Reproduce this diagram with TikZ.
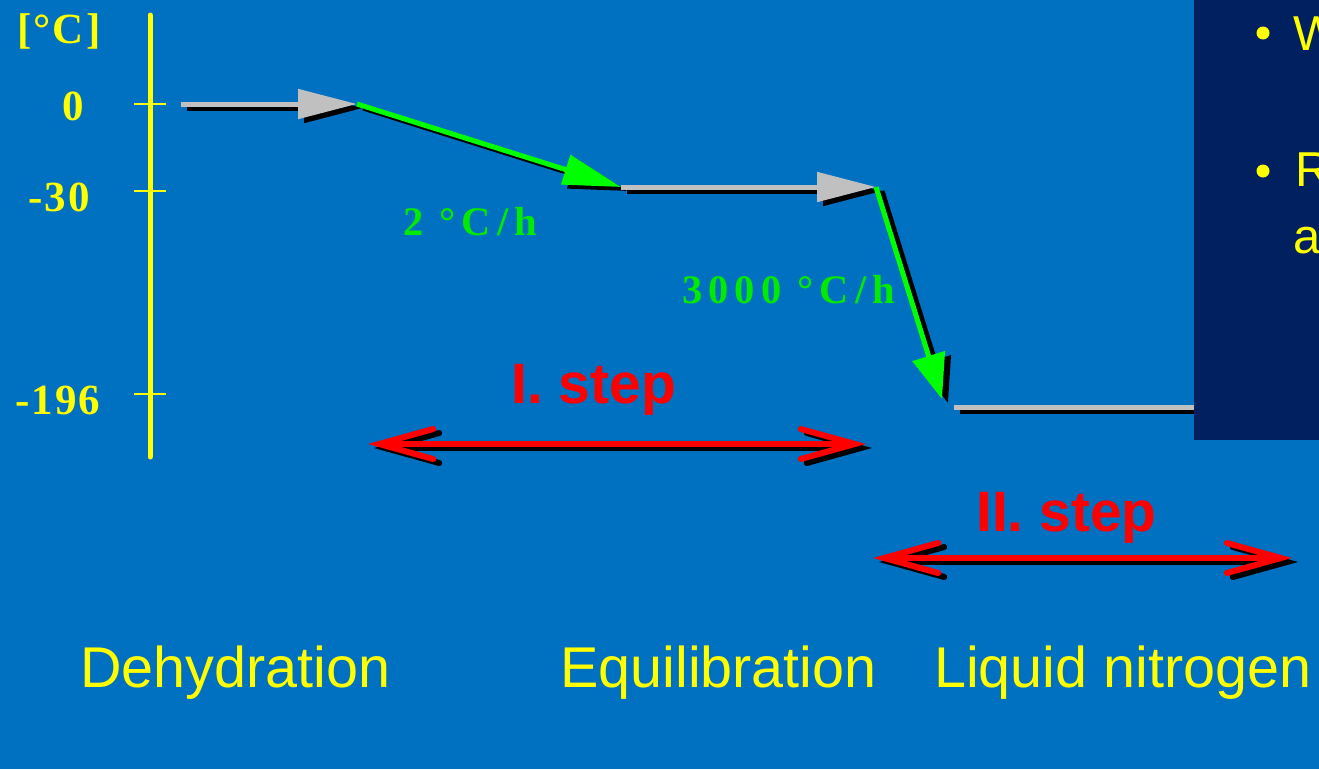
\documentclass[tikz,border=0pt]{standalone}
\usepackage{fontspec}
\setmainfont{Liberation Sans}
\newfontfamily\axfont[LetterSpace=5]{Liberation Serif}
\newfontfamily\ratefont[LetterSpace=15]{Liberation Serif}
\usetikzlibrary{arrows.meta}
\definecolor{bg}{RGB}{0,112,192}
\definecolor{dbox}{RGB}{0,32,96}
\definecolor{ylw}{RGB}{255,255,0}
\definecolor{grn}{RGB}{0,255,0}
\definecolor{grntxt}{RGB}{0,235,0}
\definecolor{gry}{RGB}{192,192,192}
\definecolor{rd}{RGB}{255,0,0}
\tikzset{
  axislbl/.style={text=ylw, font=\axfont\bfseries\fontsize{43}{43}\selectfont, inner sep=0pt, anchor=base west},
  ratelbl/.style={text=grntxt, font=\ratefont\bfseries\fontsize{40.5}{40.5}\selectfont, inner sep=0pt, anchor=base west},
  steplbl/.style={text=rd, font=\bfseries\fontsize{57}{57}\selectfont, inner sep=0pt, anchor=base west},
  phaselbl/.style={text=ylw, font=\fontsize{57.5}{57.5}\selectfont, inner sep=0pt, anchor=base west},
  boxtxt/.style={text=ylw, font=\fontsize{49}{49}\selectfont, inner sep=0pt, anchor=base west},
  shadowed/.style={transform canvas={xshift=6pt,yshift=-4pt}},
  grayarrow/.style={draw=gry, line width=5pt, -{Triangle[length=59pt,width=29pt]}},
  grayline/.style={draw=gry, line width=5pt},
  blackarrow/.style={draw=black, line width=5pt, -{Triangle[length=59pt,width=29pt]}},
  greenarrow/.style={draw=grn, line width=5pt},
  redarrow/.style={line width=6pt, {Straight Barb[length=54pt,width=30pt,line cap=round]}-{Straight Barb[length=54pt,width=30pt,line cap=round]}},
  tick/.style={draw=ylw, line width=1.5pt}
}
\begin{document}
\begin{tikzpicture}[x=1pt,y=-1pt]
\fill[bg] (0,0) rectangle (1319,769);
\useasboundingbox (0,0) rectangle (1319,769);
\begin{scope}
\clip (0,0) rectangle (1319,769);

% axis
\coordinate (axtop) at (150,15);
\coordinate (axbot) at (150,457);
\draw[ylw, line width=5pt, line cap=round] (axtop) -- (axbot);
\coordinate (t0a) at (134,104); \coordinate (t0b) at (166,104);
\coordinate (t1a) at (134,191); \coordinate (t1b) at (166,191);
\coordinate (t2a) at (134,394); \coordinate (t2b) at (166,394);
\draw[tick] (t0a) -- (t0b);
\draw[tick] (t1a) -- (t1b);
\draw[tick] (t2a) -- (t2b);
\node[axislbl] (unit) at (17,43) {[°C]};
\node[axislbl] (l0) at (62,120) {0};
\node[axislbl] (l30) at (28,211) {-30};
\node[axislbl] (l196) at (15,414) {-196};

% profile
\coordinate (c0) at (181,104);
\coordinate (c1) at (357,104);
\coordinate (c2) at (621,187);
\coordinate (c3) at (876,187);
\coordinate (c4) at (942,399);
\coordinate (c5) at (954,407);
\coordinate (c6) at (1200,407);

% shadows
\begin{scope}[shadowed]
\draw[blackarrow] (c0) -- (c1);
\draw[draw=black, line width=5pt, -{Triangle[length=58pt,width=30pt]}] (c1) -- (c2);
\draw[blackarrow] (c2) -- (c3);
\draw[draw=black, line width=5pt, -{Triangle[length=45pt,width=33pt]}] (c3) -- (c4);
\draw[draw=black, line width=5pt] (c5) -- (c6);
\end{scope}

\draw[grayarrow] (c0) -- (c1);
\draw[greenarrow, -{Triangle[length=58pt,width=30pt]}] (c1) -- (c2);
\draw[grayarrow] (c2) -- (c3);
\draw[greenarrow, -{Triangle[length=45pt,width=33pt]}] (c3) -- (c4);
\draw[grayline] (c5) -- (c6);

\node[ratelbl] (r1) at (403,235) {2 °C/h};
\node[ratelbl] (r2) at (682,303) {3000 °C/h};

% step arrows
\coordinate (s1l) at (368,444);
\coordinate (s1r) at (866,444);
\coordinate (s2l) at (873,558);
\coordinate (s2r) at (1292,558);
\draw[redarrow, draw=black, shadowed] (s1l) -- (s1r);
\draw[redarrow, draw=rd] (s1l) -- (s1r);
\draw[redarrow, draw=black, shadowed] (s2l) -- (s2r);
\draw[redarrow, draw=rd] (s2l) -- (s2r);
\node[steplbl] (st1) at (511,403) {I. step};
\node[steplbl] (st2) at (976,531) {II. step};

% phase labels
\node[phaselbl] (ph1) at (80,687) {Dehydration};
\node[phaselbl] (ph2) at (560,687) {Equilibration};
\node[phaselbl] (ph3) at (934,687) {Liquid nitrogen};

% dark box
\fill[dbox] (1194,0) rectangle (1330,440);
\fill[ylw] (1263,33) circle (6.5pt);
\fill[ylw] (1263,171) circle (6.5pt);
\node[boxtxt] (bw) at (1293,50) {W};
\node[boxtxt] (br) at (1295,186) {R};
\node[boxtxt] (ba) at (1293,253) {a};
\end{scope}
\end{tikzpicture}
\end{document}
